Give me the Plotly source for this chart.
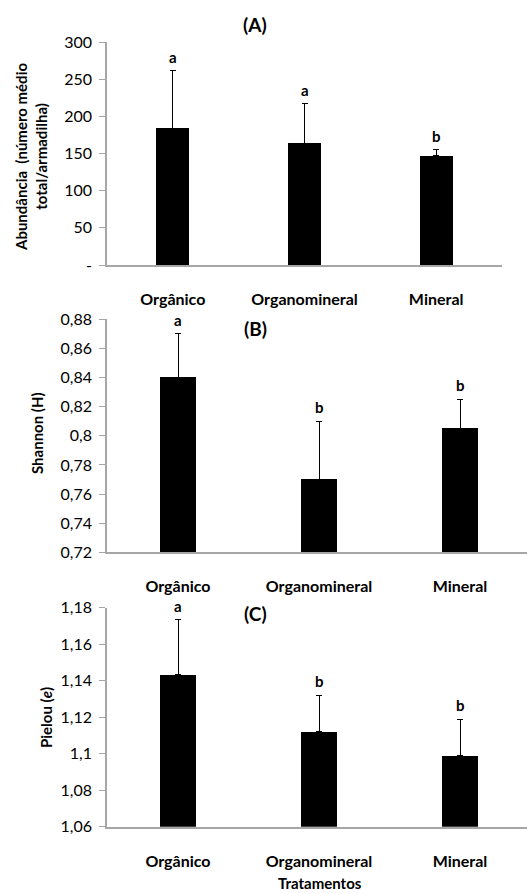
import plotly.graph_objects as go

# Treatments
categories = ["Orgânico", "Organomineral", "Mineral"]

# (A) abundance: mean and upper error
abundancia = [184, 164, 147]
abundancia_err = [77, 53, 8]
abundancia_letras = ["a", "a", "b"]

# (B) Shannon diversity
shannon = [0.84, 0.77, 0.805]
shannon_err = [0.03, 0.04, 0.02]
shannon_letras = ["a", "b", "b"]

# (C) Pielou evenness
pielou = [1.1435, 1.112, 1.099]
pielou_err = [0.03, 0.02, 0.02]
pielou_letras = ["a", "b", "b"]

ticks_a = [0, 50, 100, 150, 200, 250, 300]
ticklabels_a = ["-", "50", "100", "150", "200", "250", "300"]
ticks_b = [0.72, 0.74, 0.76, 0.78, 0.80, 0.82, 0.84, 0.86, 0.88]
ticklabels_b = ["0,72", "0,74", "0,76", "0,78", "0,8", "0,82", "0,84", "0,86", "0,88"]
ticks_c = [1.06, 1.08, 1.10, 1.12, 1.14, 1.16, 1.18]
ticklabels_c = ["1,06", "1,08", "1,1", "1,12", "1,14", "1,16", "1,18"]

FONT = "Lato"
W, H = 527, 894
AXIS_GRAY = "#a6a6a6"

panels = [
    dict(vals=abundancia, err=abundancia_err, letters=abundancia_letras,
         ydom=[1 - 265 / H, 1 - 42 / H], xdom=[107 / W, 502 / W], xr=[-0.5, 2.5],
         yr=[0, 300], tv=ticks_a, tt=ticklabels_a, title="(A)", title_y=25,
         ytitle="Abundância  (número médio<br>total/armadilha)", ytitle_x=31, ytitle_y=157),
    dict(vals=shannon, err=shannon_err, letters=shannon_letras,
         ydom=[1 - 552.3 / H, 1 - 319.3 / H], xdom=[107 / W, 1.0], xr=[-0.5035, 2.475],
         yr=[0.72, 0.88], tv=ticks_b, tt=ticklabels_b, title="(B)", title_y=328,
         ytitle="Shannon (H)", ytitle_x=37, ytitle_y=433),
    dict(vals=pielou, err=pielou_err, letters=pielou_letras,
         ydom=[1 - 826.7 / H, 1 - 607.7 / H], xdom=[107 / W, 1.0], xr=[-0.5035, 2.475],
         yr=[1.06, 1.18], tv=ticks_c, tt=ticklabels_c, title="(C)", title_y=613,
         ytitle="Pielou (<i>e</i>)", ytitle_x=46, ytitle_y=718),
]

fig = go.Figure()
annotations = []
layout = {}

for i, p in enumerate(panels, start=1):
    xa = "x" if i == 1 else f"x{i}"
    ya = "y" if i == 1 else f"y{i}"
    fig.add_trace(go.Bar(
        x=[0, 1, 2], y=p["vals"], xaxis=xa, yaxis=ya,
        width=0.25, marker=dict(color="black", line=dict(width=0)),
        error_y=dict(type="data", array=p["err"], arrayminus=[0, 0, 0],
                     symmetric=False, color="black", thickness=1, width=3),
        showlegend=False, hoverinfo="skip",
    ))
    key_x = "xaxis" if i == 1 else f"xaxis{i}"
    key_y = "yaxis" if i == 1 else f"yaxis{i}"
    layout[key_x] = dict(
        domain=p["xdom"], range=p["xr"], anchor=ya, automargin=False,
        tickmode="array", tickvals=[0, 1, 2], ticktext=categories,
        ticks="", showline=True, linecolor=AXIS_GRAY, linewidth=1.5,
        showgrid=False, zeroline=False, ticklabelstandoff=19,
        tickfont=dict(family=FONT, size=16, color="black", weight="bold"),
    )
    layout[key_y] = dict(
        domain=p["ydom"], range=p["yr"], anchor=xa, automargin=False,
        tickmode="array", tickvals=p["tv"], ticktext=p["tt"],
        ticks="outside", ticklen=6, tickcolor=AXIS_GRAY, tickwidth=1,
        showline=True, linecolor=AXIS_GRAY, linewidth=1.5,
        showgrid=False, zeroline=False, ticklabelstandoff=4,
        tickfont=dict(family=FONT, size=16, color="black"),
    )
    # significance letters above the error bars
    for j, (v, e, lt) in enumerate(zip(p["vals"], p["err"], p["letters"])):
        annotations.append(dict(
            x=j, y=v + e, xref=xa, yref=ya, text=f"<b>{lt}</b>",
            showarrow=False, yanchor="bottom", yshift=3,
            font=dict(family=FONT, size=15, color="black"),
        ))
    # panel title
    annotations.append(dict(
        x=255 / W, y=1 - p["title_y"] / H, xref="paper", yref="paper",
        text=f"<b>{p['title']}</b>", showarrow=False,
        xanchor="center", yanchor="middle",
        font=dict(family=FONT, size=19, color="black"),
    ))
    # y-axis title
    annotations.append(dict(
        x=p["ytitle_x"] / W, y=1 - p["ytitle_y"] / H, xref="paper", yref="paper",
        text=f"<b>{p['ytitle']}</b>", showarrow=False, textangle=-90,
        xanchor="center", yanchor="middle",
        font=dict(family=FONT, size=15, color="black"),
    ))

annotations.append(dict(
    x=320 / W, y=1 - 883 / H, xref="paper", yref="paper",
    text="<b>Tratamentos</b>", showarrow=False,
    xanchor="center", yanchor="middle",
    font=dict(family=FONT, size=15, color="black"),
))

fig.update_layout(
    width=W, height=H, margin=dict(l=0, r=0, t=0, b=0, autoexpand=False),
    paper_bgcolor="white", plot_bgcolor="white",
    annotations=annotations, bargap=0, **layout,
)

fig.write_html("out.html")
